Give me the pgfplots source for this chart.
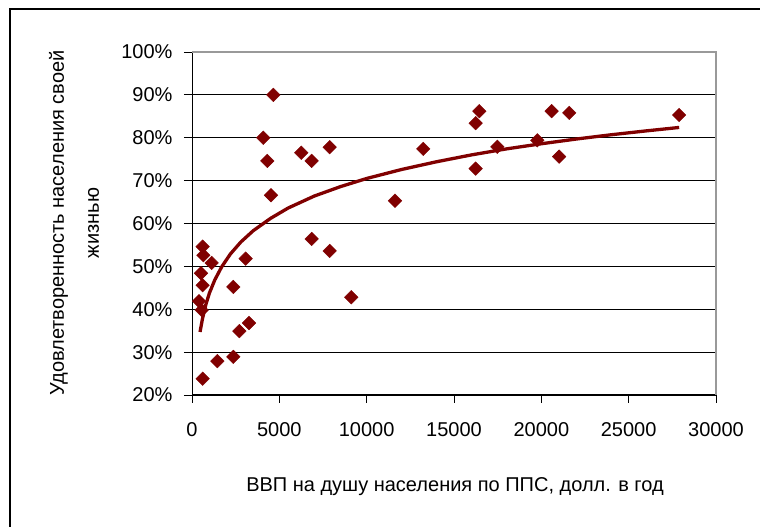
\documentclass[border=0pt]{standalone}
\usepackage{fontspec}
\setmainfont{Liberation Sans}
\usepackage{pgfplots}
\pgfplotsset{compat=1.18}
\definecolor{dred}{HTML}{800000}
\begin{document}
\begin{tikzpicture}[x=1pt,y=1pt]
\useasboundingbox (0,0) rectangle (760,527);
\fill[white] (0,0) rectangle (760,527);
\draw[black, line width=1.3pt] (10,0) -- (10,518) -- (760,518);
\begin{axis}[
    at={(192pt,132pt)}, anchor=south west,
    scale only axis, width=524pt, height=343pt,
    xmin=0, xmax=30000, ymin=20, ymax=100,
    xtick={0,5000,...,30000}, ytick={20,30,...,100},
    scaled x ticks=false,
    /pgf/number format/assume math mode=true,
    xticklabel style={/pgf/number format/1000 sep={}, yshift=-16pt},
    yticklabel={\pgfmathprintnumber{\tick}\%},
    yticklabel style={xshift=-8pt},
    ticklabel style={font=\fontsize{20}{24}\selectfont},
    axis x line*=bottom, axis y line*=left,
    axis line style={black, line width=1pt, -},
    tick style={black, line width=0.8pt},
    major tick length=8pt, tick align=outside,
    ymajorgrids, grid style={black, line width=0.8pt},
    clip=false,
]
% gray plot-area border (top, right)
\draw[gray!80, line width=1.6pt] (axis cs:0,100) -- (axis cs:30000,100) -- (axis cs:30000,20);

\addplot[only marks, mark=square*, mark size=4.8pt,
    mark options={rotate=45, fill=dred, draw=dred}] coordinates {
(4655,90.0) (4083,80.0) (4312,74.6) (4522,66.6) (6258,76.5) (6851,74.6)
(7882,77.8) (6851,56.4) (7882,53.6) (9120,42.8) (610,54.6) (650,52.6)
(1125,50.8) (515,48.4) (610,45.6) (400,41.9) (555,39.8) (3072,51.8)
(2366,45.2) (3263,36.8) (2710,34.9) (1450,27.9) (2366,28.9) (610,23.8)
(11620,65.3) (13240,77.4) (16240,83.4) (16450,86.2) (16240,72.8)
(17480,77.9) (19770,79.4) (20590,86.2) (21600,85.8) (21020,75.6)
(27890,85.3)
};
\addplot[dred, line width=3.3pt, no marks] coordinates {
(460,34.7) (600,37.8) (800,41.2) (1000,43.8) (1300,46.8) (1700,49.9)
(2200,52.9) (2800,55.7) (3500,58.3) (4500,61.2) (5500,63.6) (7000,66.4)
(8500,68.6) (10000,70.5) (12000,72.6) (14000,74.4) (16000,76.0)
(18000,77.4) (20000,78.6) (22000,79.7) (24000,80.7) (26000,81.6)
(27890,82.4)
};
\end{axis}
\node[rotate=90, align=center, font=\fontsize{20}{35}\selectfont] at (74,304)
    {Удовлетворенность населения своей\\жизнью};
\node[font=\fontsize{20}{24}\selectfont] at (455,40)
    {ВВП на душу населения по ППС, долл. в год};
\end{tikzpicture}
\end{document}
